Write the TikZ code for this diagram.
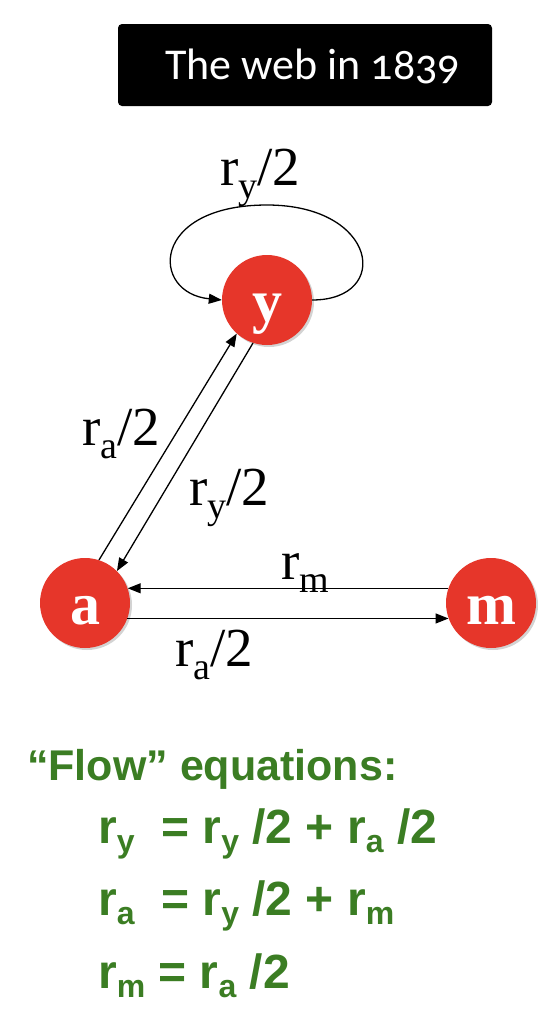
\documentclass[tikz,border=0pt]{standalone}
\usepackage{fontspec}
\setmainfont{Liberation Serif}
\newfontfamily\titlefont[Numbers=OldStyle]{Carlito}
\newfontfamily\eqfont{Liberation Sans}
\usetikzlibrary{arrows.meta,shadows}
\definecolor{nodered}{HTML}{E6362A}
\definecolor{eqgreen}{HTML}{3B7D23}
\newcommand\lsub[1]{\raisebox{-0.25em}{\fontsize{38}{38}\selectfont #1}}
\newcommand\esub[1]{\raisebox{-0.2em}{\fontsize{32}{32}\selectfont #1}}
\tikzset{
  pagenode/.style={circle, fill=nodered, minimum size=90pt, inner sep=0pt,
    text height=42pt, text depth=0pt,
    text=white, font=\fontsize{60}{60}\selectfont\bfseries,
    drop shadow={opacity=0.35, shadow xshift=2pt, shadow yshift=-2pt}},
  link/.style={line width=1.3pt, -{Triangle[length=13pt,width=10pt]}},
  lbl/.style={anchor=base west, inner sep=0pt, font=\fontsize{55}{55}\selectfont},
  eq/.style={anchor=base west, inner sep=0pt, text=eqgreen, font=\eqfont\bfseries\fontsize{48}{48}\selectfont}
}
\begin{document}
\begin{tikzpicture}[x=1pt,y=-1pt]
\useasboundingbox (0,0) rectangle (538,1010);
% title box
\node[fill=black, rounded corners=4pt, minimum width=374pt, minimum height=82pt, inner sep=0pt] (box) at (305,65) {};
\node[anchor=base west, inner sep=0pt, text=white, font=\titlefont\fontsize{44}{44}\selectfont] (title) at (165,79) {The web in 1839};
% nodes
\node[pagenode] (y) at (267,300) {y};
\node[pagenode] (a) at (85,603) {a};
\node[pagenode] (m) at (491,603) {m};
% edges
\draw[link] (y.east) .. controls (392,300) and (378,205) .. (267,205) .. controls (150,205) and (150,293) .. (y.west);
\draw[link] (a.72) -- (y.228);
\draw[link] (y.252) -- (a.45);
\draw[link] (m.161) -- (a.19);
\draw[link] (a.-20) -- (m.200);
% labels
\node[lbl] (lself) at (220,185) {r\lsub{y}/2};
\node[lbl] (lay) at (82,445) {r\lsub{a}/2};
\node[lbl] (lya) at (189,505) {r\lsub{y}/2};
\node[lbl] (lma) at (281,579) {r\lsub{m}};
\node[lbl] (lam) at (175,666) {r\lsub{a}/2};
% equations
\node[eq, font=\eqfont\bfseries\fontsize{43}{43}\selectfont] (eqtitle) at (27,780) {“Flow” equations:};
\node[eq] (eq1) at (98,843) {r\esub{y}\ \ = r\esub{y} /2 + r\esub{a} /2};
\node[eq] (eq2) at (98,915) {r\esub{a}\ \ = r\esub{y} /2 + r\esub{m}};
\node[eq] (eq3) at (98,988) {r\esub{m} = r\esub{a} /2};
\end{tikzpicture}
\end{document}
